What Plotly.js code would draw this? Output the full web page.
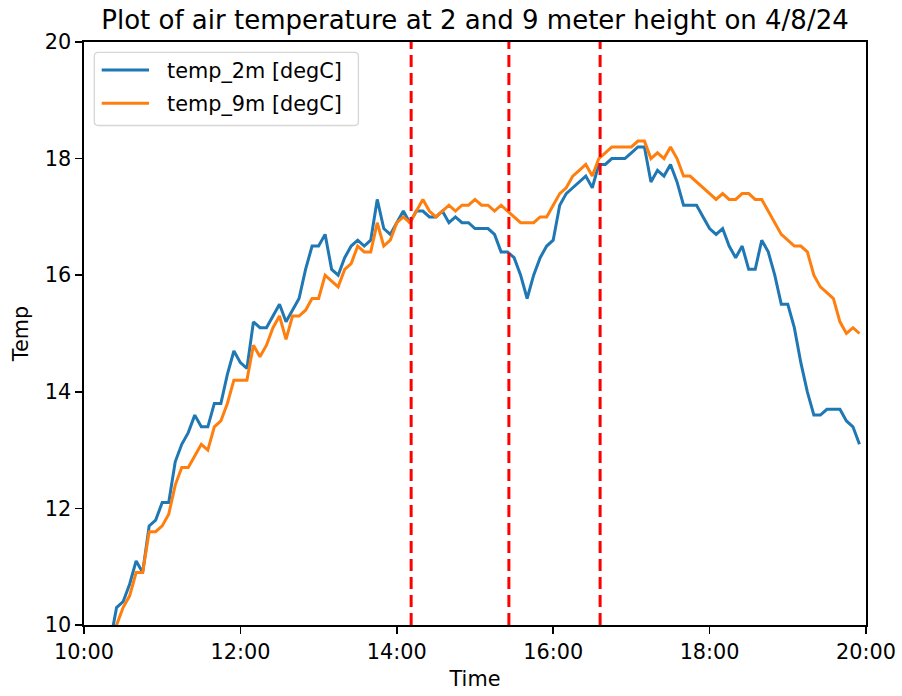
<!DOCTYPE html>
<html>
<head>
<meta charset="utf-8">
<script src="https://cdn.plot.ly/plotly-3.0.1.min.js"></script>
<style>html,body{margin:0;padding:0;background:#fff;}#chart{width:902px;height:696px;}</style>
</head>
<body>
<div id="chart"></div>
<script>
// 5-minute samples from 10:20 to 19:55 on 2024-04-08
var startTime = "10:20";
var stepMinutes = 5;

var temp2m = [
  9.7, 10.3, 10.4, 10.7, 11.1, 10.9, 11.7, 11.8,
  12.1, 12.1, 12.8, 13.1, 13.3, 13.6, 13.4, 13.4, 13.8, 13.8, 14.3, 14.7,
  14.5, 14.4, 15.2, 15.1, 15.1, 15.3, 15.5, 15.2, 15.4, 15.6, 16.1, 16.5,
  16.5, 16.7, 16.1, 16.0, 16.3, 16.5, 16.6, 16.5, 16.6, 17.3, 16.8, 16.7,
  16.9, 17.1, 16.9, 17.1, 17.1, 17.0, 17.0, 17.1, 16.9, 17.0, 16.9, 16.9,
  16.8, 16.8, 16.8, 16.7, 16.4, 16.4, 16.3, 16.0, 15.6, 16.0, 16.3, 16.5,
  16.6, 17.2, 17.4, 17.5, 17.6, 17.7, 17.5, 17.9, 17.9, 18.0, 18.0, 18.0,
  18.1, 18.2, 18.2, 17.6, 17.8, 17.7, 17.9, 17.6, 17.2, 17.2, 17.2, 17.0,
  16.8, 16.7, 16.8, 16.5, 16.3, 16.5, 16.1, 16.1, 16.6, 16.4, 16.0, 15.5,
  15.5, 15.1, 14.5, 14.0, 13.6, 13.6, 13.7, 13.7, 13.7, 13.5, 13.4, 13.1
];

var temp9m = [
  9.6, 10.0, 10.3, 10.5, 10.9, 10.9, 11.6, 11.6,
  11.7, 11.9, 12.4, 12.7, 12.7, 12.9, 13.1, 13.0, 13.4, 13.5, 13.8, 14.2,
  14.2, 14.2, 14.8, 14.6, 14.8, 15.1, 15.3, 14.9, 15.3, 15.3, 15.4, 15.6,
  15.6, 16.0, 15.9, 15.8, 16.1, 16.2, 16.5, 16.4, 16.4, 16.9, 16.5, 16.6,
  16.9, 17.0, 16.9, 17.1, 17.3, 17.1, 17.0, 17.1, 17.2, 17.1, 17.2, 17.2,
  17.3, 17.2, 17.2, 17.1, 17.2, 17.1, 17.0, 16.9, 16.9, 16.9, 17.0, 17.0,
  17.2, 17.4, 17.5, 17.7, 17.8, 17.9, 17.7, 18.0, 18.1, 18.2, 18.2, 18.2,
  18.2, 18.3, 18.3, 18.0, 18.1, 18.0, 18.2, 18.0, 17.7, 17.7, 17.6, 17.5,
  17.4, 17.3, 17.4, 17.3, 17.3, 17.4, 17.4, 17.3, 17.3, 17.1, 16.9, 16.7,
  16.6, 16.5, 16.5, 16.4, 16.0, 15.8, 15.7, 15.6, 15.2, 15.0, 15.1, 15.0
];

var seriesNames = ["temp_2m [degC]", "temp_9m [degC]"];
var seriesColors = ["#1f77b4", "#ff7f0e"];
var markerTimes = ["14:11", "15:26", "16:36"];
var xTickLabels = ["10:00", "12:00", "14:00", "16:00", "18:00", "20:00"];
var yTickValues = [10, 12, 14, 16, 18, 20];

var day = "2024-04-08 ";
function pad(n){ return (n < 10 ? "0" : "") + n; }
var sp = startTime.split(":");
var startMin = parseInt(sp[0],10)*60 + parseInt(sp[1],10);
var times = temp2m.map(function(_, i){
  var m = startMin + i*stepMinutes;
  return day + pad(Math.floor(m/60)) + ":" + pad(m%60) + ":00";
});

var font = {family: "DejaVu Sans, sans-serif", color: "#000"};
function f(size){ return Object.assign({}, font, {size: size}); }

var seriesData = [temp2m, temp9m];
var traces = seriesData.map(function(vals, i){
  return {x: times, y: vals, type: "scatter", mode: "lines", name: seriesNames[i],
          line: {color: seriesColors[i], width: 3}, showlegend: false};
});

var shapes = markerTimes.map(function(t){
  return {type: "line", xref: "x", yref: "paper", x0: day + t, x1: day + t, y0: 0, y1: 1,
          line: {color: "#ff0000", width: 3, dash: "12px,6px"}};
});

// Legend box (matplotlib-like) in paper coordinates
var plotW = 781.7, plotH = 583;
function px(x){ return (x - 84) / plotW; }
function py(y){ return (625 - y) / plotH; }
var bx0 = 94.3, bx1 = 358.3, by0 = 52.3, by1 = 125.5, r = 4;
var path = "M" + px(bx0 + r) + "," + py(by0) +
  " L" + px(bx1 - r) + "," + py(by0) +
  " Q" + px(bx1) + "," + py(by0) + " " + px(bx1) + "," + py(by0 + r) +
  " L" + px(bx1) + "," + py(by1 - r) +
  " Q" + px(bx1) + "," + py(by1) + " " + px(bx1 - r) + "," + py(by1) +
  " L" + px(bx0 + r) + "," + py(by1) +
  " Q" + px(bx0) + "," + py(by1) + " " + px(bx0) + "," + py(by1 - r) +
  " L" + px(bx0) + "," + py(by0 + r) +
  " Q" + px(bx0) + "," + py(by0) + " " + px(bx0 + r) + "," + py(by0) + " Z";
shapes.push({type: "path", xref: "paper", yref: "paper", path: path,
             fillcolor: "rgba(255,255,255,0.8)", line: {color: "#d6d6d6", width: 1.3}, layer: "above"});

var annotations = [];
var rowY = [70, 103.3];
seriesNames.forEach(function(name, i){
  shapes.push({type: "line", xref: "paper", yref: "paper",
               x0: px(101.7), x1: px(149), y0: py(rowY[i]), y1: py(rowY[i]),
               line: {color: seriesColors[i], width: 3}, layer: "above"});
  annotations.push({xref: "paper", yref: "paper", x: px(165), y: py(rowY[i] + 1),
                    xanchor: "left", yanchor: "middle", showarrow: false,
                    text: name, font: f(20.8)});
});

var layout = {
  width: 902, height: 696,
  margin: {l: 84, r: 36, t: 42, b: 71},
  paper_bgcolor: "#fff", plot_bgcolor: "#fff",
  title: {text: "Plot of air temperature at 2 and 9 meter height on 4/8/24",
          font: f(26), x: 0.5, xref: "paper", xanchor: "center", y: 0.972, yanchor: "middle"},
  xaxis: {
    type: "date",
    range: [day + "10:00", day + "20:00"],
    tickvals: xTickLabels.map(function(t){ return day + t; }),
    ticktext: xTickLabels,
    ticks: "outside", ticklen: 7, tickwidth: 1.7, tickcolor: "#000",
    showline: true, linecolor: "#000", linewidth: 1.7, mirror: true,
    showgrid: false, zeroline: false,
    tickfont: f(20.8),
    title: {text: "Time", font: f(20.8), standoff: 9}
  },
  yaxis: {
    range: [10, 20],
    tickvals: yTickValues,
    ticktext: yTickValues.map(String),
    ticks: "outside", ticklen: 7, tickwidth: 1.7, tickcolor: "#000",
    showline: true, linecolor: "#000", linewidth: 1.7, mirror: true,
    showgrid: false, zeroline: false,
    tickfont: f(20.8),
    title: {text: "Temp", font: f(20.8), standoff: 10}
  },
  shapes: shapes,
  annotations: annotations,
  showlegend: false
};

Plotly.newPlot("chart", traces, layout, {staticPlot: true, displayModeBar: false});
</script>
</body>
</html>
